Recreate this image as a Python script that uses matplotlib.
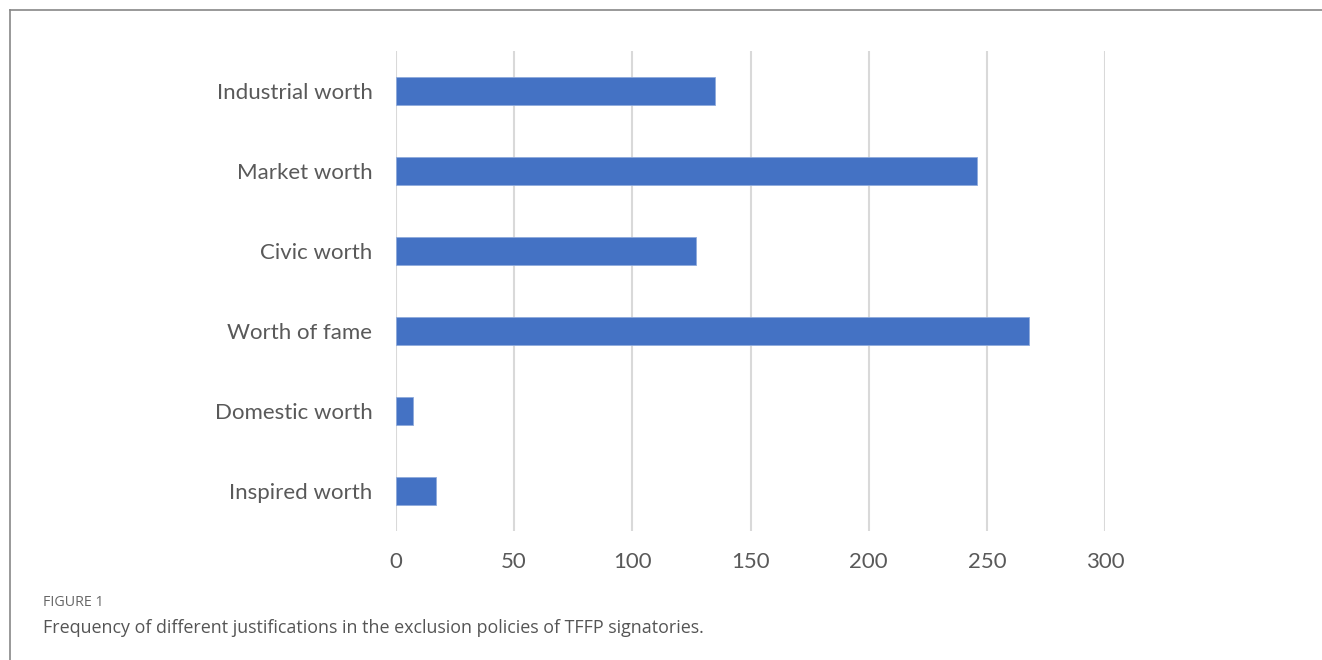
import matplotlib
matplotlib.use("Agg")
import matplotlib.pyplot as plt
from matplotlib.lines import Line2D

categories = ["Industrial worth", "Market worth", "Civic worth", "Worth of fame",
              "Domestic worth", "Inspired worth"]
values = [135, 246, 127, 268, 7, 17]
x_ticks = [0, 50, 100, 150, 200, 250, 300]

W, H = 1322, 660
fig = plt.figure(figsize=(W / 100, H / 100), dpi=100)
ax = fig.add_axes([396 / W, 1 - 531 / H, (1105 - 396) / W, (531 - 51) / H])

ypos = list(range(len(categories)))
ax.barh(ypos, values, height=0.35, color="#4472C4", edgecolor="#8FAADC",
        linewidth=0.6, zorder=3)
ax.set_ylim(len(categories) - 0.5, -0.5)
ax.set_xlim(0, 300)
ax.set_xticks(x_ticks)
ax.set_yticks(ypos)
ax.set_yticklabels(categories)
for s in ax.spines.values():
    s.set_visible(False)
ax.grid(axis="x", color="#D9D9D9", linewidth=1.5, zorder=0)
ax.tick_params(axis="both", length=0, labelsize=16, labelcolor="#595959")
ax.tick_params(axis="y", pad=17)
ax.tick_params(axis="x", pad=15)
for lab in ax.get_xticklabels() + ax.get_yticklabels():
    lab.set_fontfamily("Lato")

# outer frame (top and left edges)
fig.add_artist(Line2D([10 / W, 1.0], [1 - 10 / H, 1 - 10 / H], color="#888888",
                      linewidth=1.2, transform=fig.transFigure))
fig.add_artist(Line2D([10 / W, 10 / W], [0, 1 - 10 / H], color="#888888",
                      linewidth=1.2, transform=fig.transFigure))

fig.text(43 / W, 1 - 603 / H, "FIGURE 1", fontsize=10.3, color="#666666",
         family="Open Sans", va="center", ha="left")
fig.text(43 / W, 1 - 628 / H,
         "Frequency of different justifications in the exclusion policies of TFFP signatories.",
         fontsize=12.9, color="#555555", family="Open Sans", va="center", ha="left")

fig.savefig("out.png", dpi=100)
